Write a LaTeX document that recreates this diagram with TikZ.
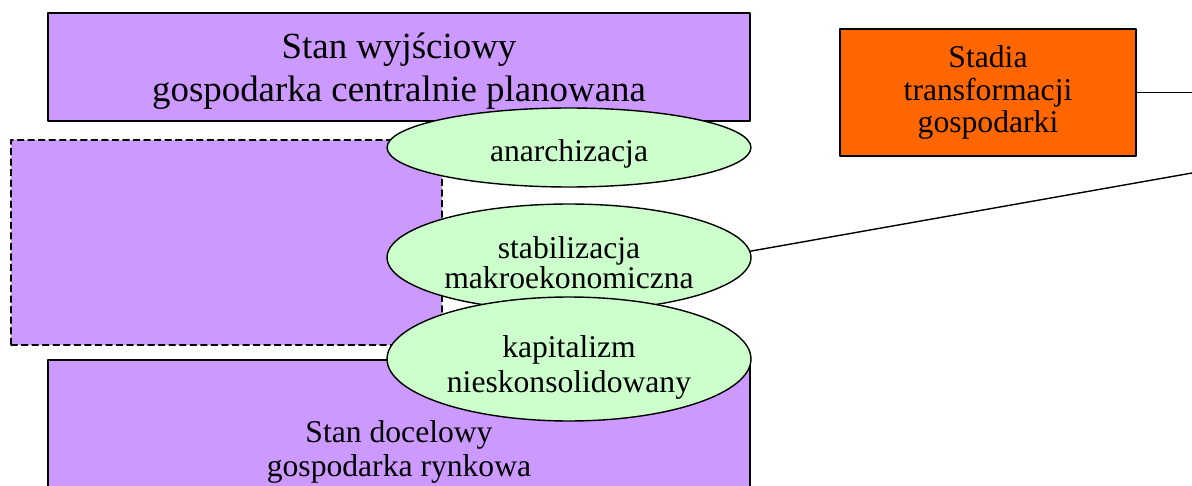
\documentclass[tikz,border=0pt]{standalone}
\usepackage{fontspec}
\setmainfont{Liberation Serif}
\usetikzlibrary{shapes.geometric}
\definecolor{stanfill}{HTML}{CC99FF}
\definecolor{etapfill}{HTML}{CCFFCC}
\definecolor{stadiafill}{HTML}{FF6600}
\newcommand{\gorna}[1]{\rule{0pt}{#1}}
\begin{document}
\begin{tikzpicture}[line cap=round, line join=round, x=0.02cm, y=-0.02cm, line width=0.8pt]
			\tikzset{stan box/.style={draw, fill=stanfill, rectangle, inner sep=0pt, align=center},
				etap/.style={draw, fill=etapfill, ellipse, inner sep=0pt, minimum width=7.28cm, align=center, font=\fontsize{18}{19}\selectfont}}
			\useasboundingbox (0,0) rectangle (1192,486);
			\clip (0,0) rectangle (1192,486);
			\node[stan box, minimum width=14.04cm, minimum height=2.16cm, font=\fontsize{21}{24.4}\selectfont] (wyj) at (399,67) {\gorna{19pt}Stan wyjściowy\\gospodarka centralnie planowana};
			\node[stan box, dash pattern=on 3.5pt off 2.5pt, minimum width=8.62cm, minimum height=4.1cm] (posr) at (226.5,242.5) {};
			\node[stan box, minimum width=14.04cm, minimum height=3.52cm, font=\fontsize{18}{19.3}\selectfont] (doc) at (399,448) {\gorna{16.5pt}Stan docelowy\\gospodarka rynkowa};
			\node[draw, fill=stadiafill, inner sep=0pt, align=center, minimum width=5.92cm, minimum height=2.54cm, font=\fontsize{18}{18.4}\selectfont] (stadia) at (988,92.5) {Stadia\\transformacji\\gospodarki};
			\node[etap, minimum height=1.58cm] (anar) at (569,147.5) {\gorna{20pt}anarchizacja};
			\node[etap, minimum height=2.14cm, font=\fontsize{18}{17}\selectfont] (stab) at (569,257.5) {\gorna{18pt}stabilizacja\\makroekonomiczna};
			\node[etap, minimum height=2.48cm, font=\fontsize{18}{19.8}\selectfont] (kap) at (569,359) {\gorna{22.5pt}kapitalizm\\nieskonsolidowany};
			\coordinate (brzegA) at (1192,92.5);
			\coordinate (brzegB) at (1192,173);
			\draw (stadia.east) -- (brzegA);
			\draw (stab.2) -- (brzegB);
	\end{tikzpicture}
\end{document}
